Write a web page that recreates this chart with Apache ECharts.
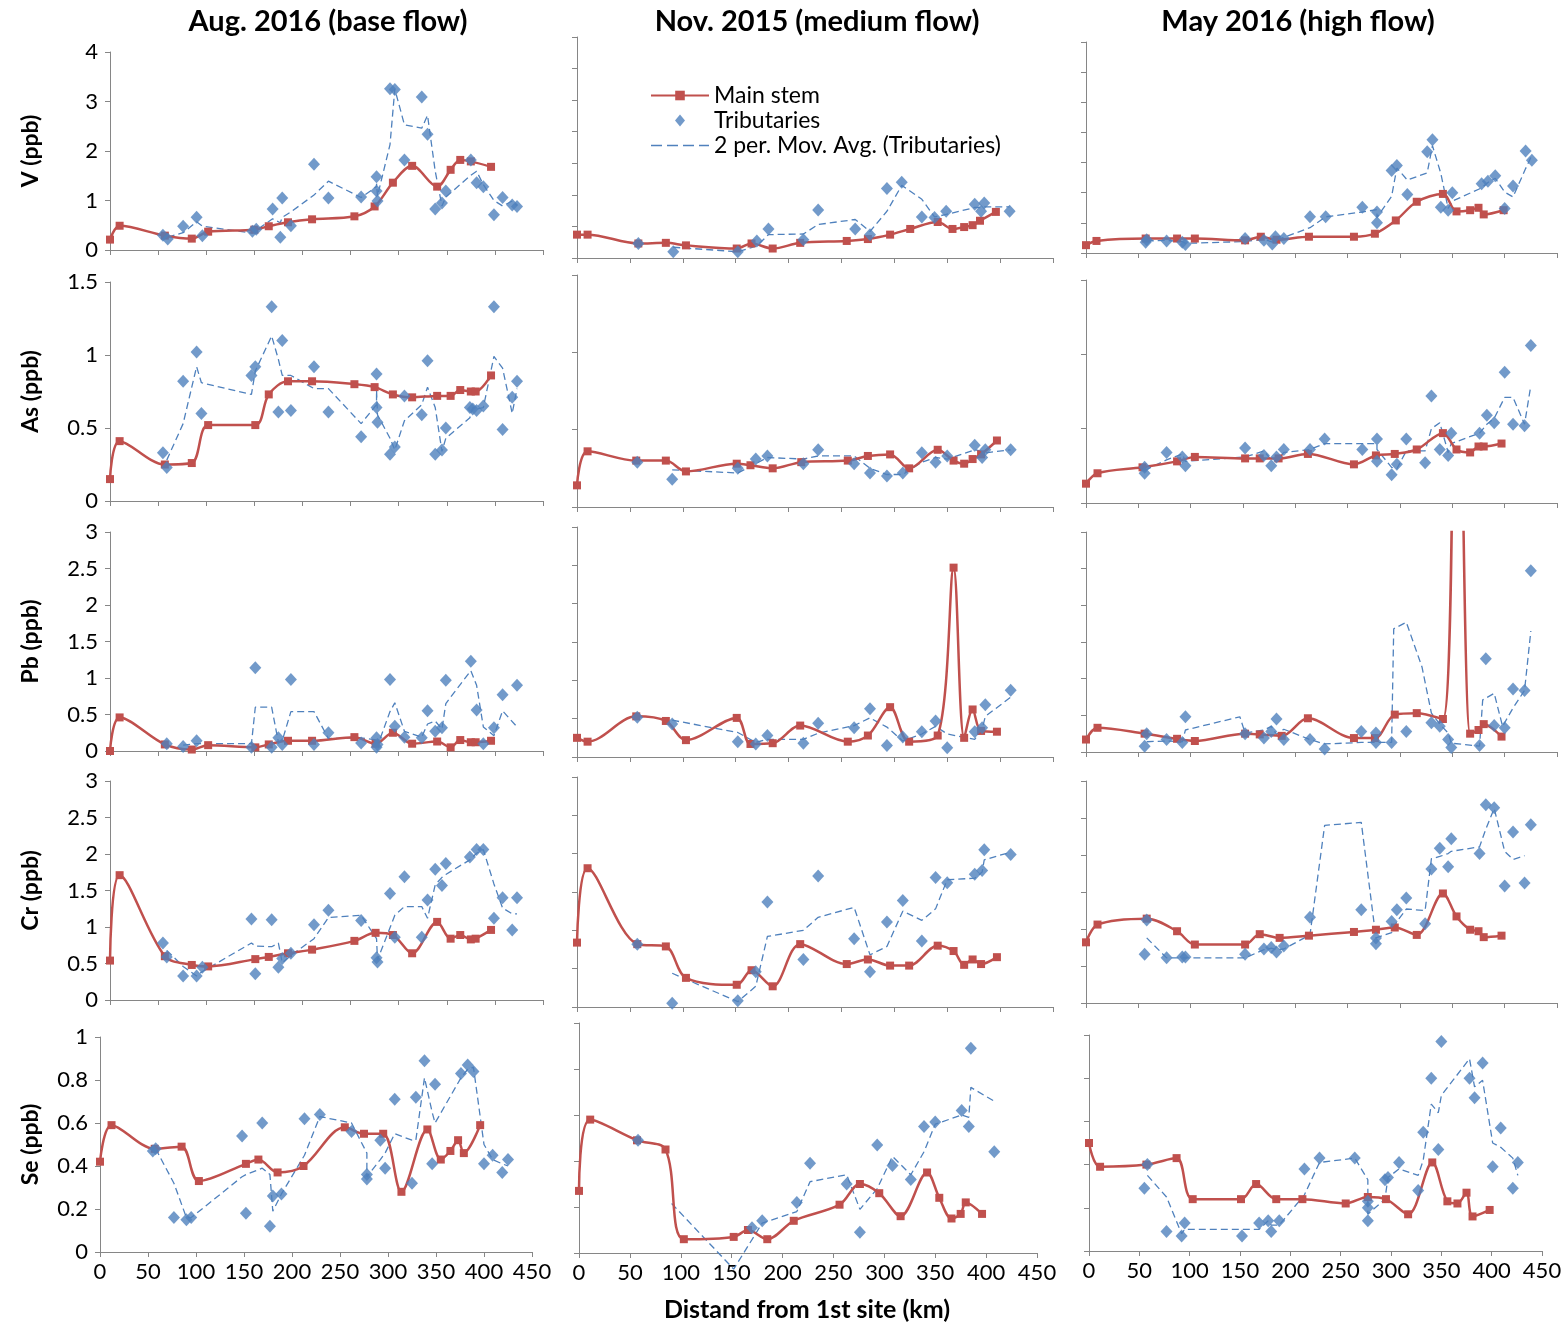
<!DOCTYPE html>
<html><head><meta charset="utf-8">
<script src="https://cdn.jsdelivr.net/npm/echarts@6/dist/echarts.min.js"></script>
<style>html,body{margin:0;padding:0;background:#fff}#c{width:1565px;height:1323px}</style>
</head><body><div id="c"></div>
<script>
// ---------------- DATA (km from 1st site, ppb) ----------------
// Aug. 2016 (base flow)
const aug_V_mainKm = [0, 10, 57, 85, 102, 150, 165, 185, 210, 254, 275, 294, 314, 340, 354, 364, 375, 396];
const aug_V_main   = [0.21, 0.49, 0.29, 0.23, 0.37, 0.41, 0.48, 0.56, 0.62, 0.68, 0.88, 1.36, 1.70, 1.28, 1.62, 1.82, 1.79, 1.68];
const aug_V_tribKm = [55, 60, 76, 90, 96, 148, 152, 169, 177, 179, 188, 212, 227, 261, 277, 277, 278, 291, 296, 306, 324, 330, 338, 345, 349, 375, 381, 388, 399, 408, 418, 423];
const aug_V_trib   = [0.30, 0.22, 0.48, 0.66, 0.29, 0.38, 0.42, 0.83, 0.26, 1.05, 0.49, 1.73, 1.05, 1.07, 1.48, 1.19, 0.99, 3.26, 3.24, 1.82, 3.09, 2.34, 0.83, 0.95, 1.19, 1.82, 1.36, 1.28, 0.71, 1.06, 0.91, 0.88];
const aug_V_maKm   = [60, 76, 90, 96, 148, 152, 169, 177, 179, 188, 212, 227, 261, 277, 277, 278, 291, 296, 306, 324, 330, 338, 345, 349, 375, 381, 388, 399, 408, 418, 423];
const aug_V_ma     = [0.26, 0.35, 0.57, 0.48, 0.34, 0.40, 0.63, 0.55, 0.66, 0.77, 1.11, 1.39, 1.06, 1.28, 1.34, 1.09, 2.13, 3.25, 2.53, 2.46, 2.72, 1.59, 0.89, 1.07, 1.51, 1.59, 1.32, 1.00, 0.89, 0.99, 0.90];

const aug_As_mainKm = [0, 10, 57, 85, 102, 151, 165, 185, 210, 254, 275, 294, 314, 340, 354, 364, 375, 380, 396];
const aug_As_main   = [0.15, 0.41, 0.25, 0.26, 0.52, 0.52, 0.73, 0.82, 0.82, 0.80, 0.78, 0.73, 0.71, 0.72, 0.72, 0.76, 0.75, 0.75, 0.86];
const aug_As_tribKm = [55, 59, 76, 90, 95, 147, 151, 168, 175, 179, 188, 212, 227, 261, 277, 277, 278, 291, 296, 306, 324, 330, 338, 345, 349, 374, 377, 381, 388, 399, 408, 418, 423];
const aug_As_trib   = [0.33, 0.23, 0.82, 1.02, 0.60, 0.86, 0.92, 1.33, 0.61, 1.10, 0.62, 0.92, 0.61, 0.44, 0.87, 0.64, 0.54, 0.32, 0.37, 0.72, 0.59, 0.96, 0.32, 0.35, 0.50, 0.64, 0.63, 0.62, 0.65, 1.33, 0.49, 0.71, 0.82];
const aug_As_maKm   = [59, 76, 90, 95, 147, 151, 168, 175, 179, 188, 212, 227, 261, 277, 277, 278, 291, 296, 306, 324, 330, 338, 345, 349, 374, 377, 381, 388, 399, 408, 418, 423];
const aug_As_ma     = [0.28, 0.53, 0.92, 0.81, 0.73, 0.89, 1.13, 0.97, 0.86, 0.86, 0.77, 0.77, 0.53, 0.66, 0.76, 0.59, 0.43, 0.35, 0.55, 0.66, 0.78, 0.64, 0.34, 0.43, 0.57, 0.64, 0.63, 0.64, 0.99, 0.91, 0.60, 0.77];

const aug_Pb_mainKm = [0, 10, 57, 85, 102, 151, 165, 185, 210, 254, 276, 294, 314, 340, 354, 364, 375, 380, 396];
const aug_Pb_main   = [0.0, 0.46, 0.09, 0.02, 0.08, 0.05, 0.09, 0.14, 0.14, 0.19, 0.10, 0.25, 0.10, 0.13, 0.05, 0.15, 0.12, 0.12, 0.14];
const aug_Pb_tribKm = [59, 76, 90, 147, 151, 168, 175, 179, 188, 212, 227, 261, 277, 277, 278, 291, 296, 306, 324, 330, 338, 345, 349, 375, 381, 388, 399, 408, 423];
const aug_Pb_trib   = [0.10, 0.06, 0.14, 0.05, 1.14, 0.05, 0.18, 0.09, 0.98, 0.09, 0.25, 0.11, 0.18, 0.05, 0.09, 0.98, 0.34, 0.19, 0.18, 0.55, 0.27, 0.32, 0.97, 1.23, 0.56, 0.10, 0.32, 0.77, 0.90];
const aug_Pb_maKm   = [76, 90, 147, 151, 168, 175, 179, 188, 212, 227, 261, 277, 277, 278, 291, 296, 306, 324, 330, 338, 345, 349, 375, 381, 388, 399, 408, 423];
const aug_Pb_ma     = [0.08, 0.10, 0.10, 0.60, 0.60, 0.12, 0.14, 0.54, 0.54, 0.17, 0.18, 0.15, 0.12, 0.07, 0.54, 0.66, 0.27, 0.19, 0.37, 0.41, 0.30, 0.65, 1.10, 0.90, 0.33, 0.21, 0.55, 0.33];

const aug_Cr_mainKm = [0, 10, 57, 85, 102, 151, 165, 185, 210, 254, 276, 294, 314, 340, 354, 364, 375, 380, 396];
const aug_Cr_main   = [0.54, 1.71, 0.60, 0.48, 0.46, 0.56, 0.59, 0.64, 0.69, 0.81, 0.92, 0.89, 0.64, 1.07, 0.84, 0.89, 0.83, 0.84, 0.96];
const aug_Cr_tribKm = [55, 59, 76, 90, 96, 147, 151, 168, 175, 179, 188, 212, 227, 261, 277, 278, 291, 296, 306, 324, 330, 338, 345, 349, 374, 381, 388, 399, 408, 418, 423];
const aug_Cr_trib   = [0.78, 0.59, 0.33, 0.33, 0.45, 1.11, 0.36, 1.10, 0.45, 0.57, 0.64, 1.03, 1.23, 1.09, 0.58, 0.52, 1.46, 0.86, 1.69, 0.86, 1.37, 1.79, 1.57, 1.87, 1.96, 2.06, 2.06, 1.12, 1.40, 0.96, 1.40];
const aug_Cr_maKm   = [59, 76, 90, 96, 147, 151, 168, 175, 179, 188, 212, 227, 261, 277, 278, 291, 296, 306, 324, 330, 338, 345, 349, 374, 381, 388, 399, 408, 418, 423];
const aug_Cr_ma     = [0.68, 0.46, 0.33, 0.39, 0.78, 0.74, 0.73, 0.78, 0.51, 0.61, 0.84, 1.13, 1.16, 0.84, 0.55, 0.99, 1.16, 1.28, 1.28, 1.12, 1.58, 1.68, 1.72, 1.92, 2.01, 2.06, 1.59, 1.26, 1.18, 1.18];

const aug_Se_mainKm = [0, 12, 57, 85, 103, 152, 165, 185, 212, 255, 275, 295, 314, 341, 355, 365, 373, 379, 396];
const aug_Se_main   = [0.42, 0.59, 0.48, 0.49, 0.33, 0.41, 0.43, 0.37, 0.40, 0.58, 0.55, 0.55, 0.28, 0.57, 0.43, 0.47, 0.52, 0.46, 0.59];
const aug_Se_tribKm = [55, 58, 77, 90, 95, 148, 152, 169, 177, 180, 189, 213, 229, 262, 278, 278, 292, 297, 307, 325, 329, 338, 346, 349, 376, 383, 389, 400, 409, 419, 425];
const aug_Se_trib   = [0.47, 0.48, 0.16, 0.15, 0.16, 0.54, 0.18, 0.60, 0.12, 0.26, 0.27, 0.62, 0.64, 0.56, 0.36, 0.34, 0.52, 0.39, 0.71, 0.32, 0.72, 0.89, 0.41, 0.78, 0.83, 0.87, 0.84, 0.41, 0.45, 0.37, 0.43];
const aug_Se_maKm   = [58, 77, 90, 95, 148, 152, 169, 177, 180, 189, 213, 229, 262, 278, 278, 292, 297, 307, 325, 329, 338, 346, 349, 376, 383, 389, 400, 409, 419, 425];
const aug_Se_ma     = [0.48, 0.32, 0.16, 0.16, 0.35, 0.36, 0.39, 0.36, 0.19, 0.27, 0.45, 0.63, 0.60, 0.46, 0.35, 0.43, 0.46, 0.55, 0.52, 0.52, 0.81, 0.65, 0.60, 0.81, 0.85, 0.86, 0.50, 0.43, 0.41, 0.40];

// Nov. 2015 (medium flow)
const nov_V_mainKm = [0, 10, 58, 84, 103, 151, 165, 185, 211, 255, 275, 296, 315, 341, 355, 366, 374, 381, 396];
const nov_V_main   = [0.37, 0.37, 0.23, 0.24, 0.20, 0.15, 0.23, 0.15, 0.24, 0.27, 0.30, 0.37, 0.46, 0.57, 0.46, 0.49, 0.52, 0.59, 0.73];
const nov_V_tribKm = [58, 91, 152, 170, 181, 214, 228, 263, 277, 293, 307, 326, 338, 349, 376, 382, 385, 409];
const nov_V_trib   = [0.23, 0.10, 0.10, 0.27, 0.46, 0.29, 0.76, 0.46, 0.37, 1.10, 1.20, 0.65, 0.64, 0.74, 0.85, 0.74, 0.87, 0.74];
const nov_V_maKm   = [91, 152, 170, 181, 214, 228, 263, 277, 293, 307, 326, 338, 349, 376, 382, 385, 409];
const nov_V_ma     = [0.17, 0.10, 0.19, 0.37, 0.38, 0.53, 0.61, 0.42, 0.74, 1.15, 0.93, 0.65, 0.69, 0.80, 0.80, 0.81, 0.81];

const nov_As_mainKm = [0, 10, 56, 84, 103, 151, 164, 185, 212, 256, 275, 296, 314, 341, 356, 366, 374, 382, 397];
const nov_As_main   = [0.14, 0.36, 0.30, 0.30, 0.23, 0.28, 0.27, 0.25, 0.29, 0.30, 0.33, 0.34, 0.25, 0.37, 0.30, 0.28, 0.31, 0.34, 0.43];
const nov_As_tribKm = [57, 90, 152, 169, 180, 214, 228, 262, 277, 293, 308, 326, 339, 350, 376, 383, 386, 410];
const nov_As_trib   = [0.29, 0.18, 0.25, 0.31, 0.33, 0.28, 0.37, 0.28, 0.22, 0.20, 0.22, 0.35, 0.29, 0.33, 0.40, 0.32, 0.37, 0.37];
const nov_As_maKm   = [90, 152, 169, 180, 214, 228, 262, 277, 293, 308, 326, 339, 350, 376, 383, 386, 410];
const nov_As_ma     = [0.24, 0.22, 0.28, 0.32, 0.31, 0.33, 0.33, 0.25, 0.21, 0.21, 0.29, 0.32, 0.31, 0.37, 0.36, 0.35, 0.37];

const nov_Pb_mainKm = [0, 10, 56, 84, 103, 151, 164, 185, 211, 256, 275, 296, 314, 341, 356, 366, 374, 382, 397];
const nov_Pb_main   = [0.25, 0.20, 0.53, 0.47, 0.22, 0.51, 0.17, 0.18, 0.41, 0.20, 0.28, 0.65, 0.20, 0.28, 2.47, 0.25, 0.62, 0.34, 0.33];
const nov_Pb_tribKm = [57, 90, 152, 169, 180, 214, 228, 262, 277, 293, 308, 326, 339, 350, 376, 383, 386, 410];
const nov_Pb_trib   = [0.52, 0.43, 0.20, 0.17, 0.28, 0.18, 0.44, 0.38, 0.63, 0.15, 0.26, 0.33, 0.47, 0.12, 0.33, 0.38, 0.68, 0.87];
const nov_Pb_maKm   = [90, 152, 169, 180, 214, 228, 262, 277, 293, 308, 326, 339, 350, 376, 383, 386, 410];
const nov_Pb_ma     = [0.48, 0.32, 0.19, 0.23, 0.23, 0.31, 0.41, 0.51, 0.39, 0.21, 0.30, 0.40, 0.30, 0.23, 0.36, 0.53, 0.78];

const nov_Cr_mainKm = [0, 10, 57, 84, 103, 151, 165, 185, 211, 255, 275, 296, 314, 341, 356, 366, 374, 382, 397];
const nov_Cr_main   = [0.84, 1.81, 0.82, 0.79, 0.38, 0.29, 0.48, 0.27, 0.82, 0.56, 0.62, 0.54, 0.54, 0.80, 0.73, 0.55, 0.62, 0.56, 0.65];
const nov_Cr_tribKm = [57, 90, 152, 169, 180, 214, 228, 262, 277, 293, 308, 326, 339, 350, 376, 383, 385, 410];
const nov_Cr_trib   = [0.82, 0.05, 0.08, 0.46, 1.37, 0.62, 1.71, 0.89, 0.46, 1.11, 1.39, 0.86, 1.69, 1.62, 1.73, 1.78, 2.05, 1.99];
const nov_Cr_maKm   = [90, 152, 169, 180, 214, 228, 262, 277, 293, 308, 326, 339, 350, 376, 383, 385, 410];
const nov_Cr_ma     = [0.44, 0.07, 0.27, 0.92, 1.00, 1.17, 1.30, 0.68, 0.79, 1.25, 1.13, 1.28, 1.66, 1.68, 1.76, 1.92, 2.02];

const nov_Se_mainKm = [0, 11, 57, 85, 103, 152, 166, 185, 211, 256, 276, 295, 316, 342, 354, 366, 375, 380, 396];
const nov_Se_main   = [0.27, 0.58, 0.49, 0.45, 0.06, 0.07, 0.10, 0.06, 0.14, 0.21, 0.30, 0.26, 0.16, 0.35, 0.24, 0.15, 0.17, 0.22, 0.17];
const nov_Se_tribKm = [58, 170, 180, 214, 227, 263, 276, 293, 308, 326, 339, 350, 376, 383, 385, 408];
const nov_Se_trib   = [0.49, 0.11, 0.14, 0.22, 0.39, 0.30, 0.09, 0.47, 0.38, 0.32, 0.55, 0.57, 0.62, 0.55, 0.89, 0.44];
const nov_Se_maKm   = [91, 152, 180, 214, 227, 263, 276, 293, 308, 326, 339, 350, 376, 383, 385, 408];
const nov_Se_ma     = [0.215, -0.07, 0.13, 0.18, 0.31, 0.34, 0.19, 0.28, 0.42, 0.34, 0.44, 0.56, 0.60, 0.59, 0.72, 0.66];

// May 2016 (high flow)
const may_V_mainKm = [0, 10, 57, 87, 104, 152, 167, 182, 213, 256, 276, 296, 316, 341, 354, 367, 375, 380, 399];
const may_V_main   = [0.13, 0.20, 0.24, 0.24, 0.24, 0.21, 0.27, 0.22, 0.27, 0.27, 0.32, 0.54, 0.85, 0.98, 0.69, 0.71, 0.75, 0.64, 0.71];
const may_V_tribKm = [57, 58, 77, 92, 95, 152, 170, 178, 181, 189, 214, 229, 264, 278, 278, 292, 297, 307, 326, 331, 339, 346, 350, 378, 384, 391, 400, 408, 420, 426];
const may_V_trib   = [0.18, 0.22, 0.20, 0.18, 0.14, 0.24, 0.21, 0.15, 0.27, 0.24, 0.60, 0.60, 0.76, 0.68, 0.50, 1.37, 1.45, 0.97, 1.68, 1.88, 0.76, 0.71, 1.00, 1.15, 1.19, 1.28, 0.74, 1.11, 1.69, 1.54];
const may_V_maKm   = [58, 77, 92, 95, 152, 170, 178, 181, 189, 214, 229, 264, 278, 278, 292, 297, 307, 326, 331, 339, 346, 350, 378, 384, 391, 400, 408, 420, 426];
const may_V_ma     = [0.20, 0.21, 0.19, 0.16, 0.19, 0.23, 0.18, 0.21, 0.26, 0.42, 0.60, 0.68, 0.72, 0.59, 0.94, 1.41, 1.21, 1.33, 1.78, 1.32, 0.74, 0.86, 1.08, 1.17, 1.24, 1.01, 0.93, 1.40, 1.62];

const may_As_mainKm = [0, 11, 54, 87, 104, 152, 166, 184, 212, 256, 277, 295, 316, 341, 354, 367, 375, 380, 397];
const may_As_main   = [0.13, 0.20, 0.24, 0.28, 0.31, 0.30, 0.30, 0.30, 0.33, 0.26, 0.32, 0.33, 0.36, 0.47, 0.36, 0.34, 0.38, 0.38, 0.40];
const may_As_tribKm = [56, 56, 77, 92, 95, 152, 170, 177, 182, 189, 214, 228, 264, 278, 278, 292, 297, 306, 324, 330, 338, 346, 349, 376, 383, 390, 400, 408, 419, 425];
const may_As_trib   = [0.20, 0.24, 0.34, 0.31, 0.25, 0.37, 0.32, 0.25, 0.31, 0.36, 0.36, 0.43, 0.36, 0.43, 0.28, 0.19, 0.26, 0.43, 0.27, 0.72, 0.36, 0.32, 0.47, 0.47, 0.59, 0.54, 0.88, 0.53, 0.52, 1.06];
const may_As_maKm   = [56, 77, 92, 95, 152, 170, 177, 182, 189, 214, 228, 264, 278, 278, 292, 297, 306, 324, 330, 338, 346, 349, 376, 383, 390, 400, 408, 419, 425];
const may_As_ma     = [0.22, 0.29, 0.33, 0.28, 0.31, 0.35, 0.29, 0.28, 0.34, 0.36, 0.40, 0.40, 0.40, 0.36, 0.24, 0.23, 0.35, 0.35, 0.50, 0.54, 0.34, 0.40, 0.47, 0.53, 0.57, 0.71, 0.71, 0.53, 0.79];

const may_Pb_mainKm = [0, 11, 56, 87, 104, 152, 166, 187, 212, 256, 276, 295, 316, 341, 354, 367, 375, 380, 397];
const may_Pb_main   = [0.17, 0.33, 0.25, 0.18, 0.15, 0.25, 0.24, 0.22, 0.46, 0.19, 0.19, 0.51, 0.53, 0.45, 8.0, 0.25, 0.30, 0.38, 0.21];
const may_Pb_tribKm = [56, 58, 77, 92, 95, 152, 170, 177, 182, 189, 214, 228, 263, 277, 277, 292, 306, 330, 338, 346, 349, 376, 382, 390, 400, 408, 419, 425];
const may_Pb_trib   = [0.08, 0.25, 0.17, 0.13, 0.48, 0.25, 0.19, 0.28, 0.45, 0.17, 0.17, 0.04, 0.28, 0.13, 0.26, 0.13, 0.28, 0.40, 0.35, 0.17, 0.06, 0.09, 1.27, 0.36, 0.33, 0.86, 0.84, 2.47];
const may_Pb_maKm   = [58, 77, 92, 95, 147, 152, 170, 177, 182, 189, 214, 228, 263, 277, 292, 294, 306, 321, 330, 338, 346, 349, 376, 379, 390, 398, 408, 419, 425];
const may_Pb_ma     = [0.14, 0.15, 0.14, 0.30, 0.48, 0.26, 0.30, 0.35, 0.24, 0.31, 0.17, 0.11, 0.13, 0.13, 0.13, 1.68, 1.77, 1.16, 0.53, 0.38, 0.26, 0.12, 0.08, 0.71, 0.80, 0.35, 0.60, 0.84, 1.65];

const may_Cr_mainKm = [0, 11, 58, 87, 104, 152, 166, 185, 213, 256, 277, 295, 316, 341, 354, 367, 375, 380, 397];
const may_Cr_main   = [0.82, 1.06, 1.14, 0.97, 0.79, 0.79, 0.93, 0.88, 0.91, 0.96, 0.99, 1.02, 0.92, 1.48, 1.17, 0.99, 0.97, 0.89, 0.91];
const may_Cr_tribKm = [56, 58, 77, 92, 95, 152, 170, 177, 182, 189, 214, 263, 277, 277, 292, 297, 306, 324, 330, 338, 346, 349, 376, 382, 390, 400, 408, 419, 425];
const may_Cr_trib   = [0.66, 1.12, 0.61, 0.62, 0.62, 0.66, 0.73, 0.75, 0.69, 0.77, 1.16, 1.26, 0.88, 0.80, 1.10, 1.26, 1.42, 1.07, 1.81, 2.09, 1.84, 2.22, 2.02, 2.68, 2.64, 1.58, 2.31, 1.62, 2.41];
const may_Cr_maKm   = [58, 77, 92, 95, 152, 170, 177, 182, 189, 214, 228, 263, 277, 292, 297, 306, 324, 330, 338, 346, 349, 376, 382, 390, 400, 408, 419];
const may_Cr_ma     = [0.88, 0.61, 0.61, 0.61, 0.61, 0.72, 0.74, 0.72, 0.73, 0.92, 2.40, 2.44, 0.88, 0.95, 1.10, 1.27, 1.25, 1.95, 1.98, 2.02, 2.05, 2.11, 2.35, 2.63, 2.05, 1.94, 1.99];

const may_Se_mainKm = [0, 11, 57, 87, 103, 151, 166, 186, 212, 255, 277, 295, 317, 341, 356, 366, 375, 381, 398];
const may_Se_main   = [0.50, 0.39, 0.40, 0.43, 0.24, 0.24, 0.31, 0.24, 0.24, 0.22, 0.25, 0.24, 0.17, 0.41, 0.23, 0.22, 0.27, 0.16, 0.19];
const may_Se_tribKm = [55, 58, 77, 92, 95, 152, 169, 178, 181, 189, 214, 229, 264, 277, 277, 277, 294, 297, 308, 327, 332, 340, 347, 350, 378, 383, 391, 401, 409, 421, 426];
const may_Se_trib   = [0.29, 0.40, 0.09, 0.07, 0.13, 0.07, 0.13, 0.14, 0.09, 0.14, 0.38, 0.43, 0.43, 0.23, 0.20, 0.14, 0.33, 0.34, 0.41, 0.28, 0.55, 0.80, 0.47, 0.97, 0.80, 0.71, 0.87, 0.39, 0.57, 0.29, 0.41];
const may_Se_maKm   = [58, 77, 92, 95, 152, 169, 178, 181, 189, 214, 229, 264, 277, 277, 277, 294, 297, 308, 327, 332, 340, 347, 350, 378, 383, 391, 401, 409, 421, 426];
const may_Se_ma     = [0.35, 0.25, 0.08, 0.10, 0.10, 0.10, 0.14, 0.12, 0.12, 0.26, 0.41, 0.43, 0.33, 0.22, 0.17, 0.24, 0.34, 0.38, 0.35, 0.42, 0.68, 0.64, 0.72, 0.89, 0.76, 0.79, 0.50, 0.48, 0.43, 0.35];

// Text
const colTitles = ['Aug. 2016 (base flow)', 'Nov. 2015 (medium flow)', 'May 2016 (high flow)'];
const yNames = ['V (ppb)', 'As (ppb)', 'Pb (ppb)', 'Cr (ppb)', 'Se (ppb)'];
const xTitle = 'Distand from 1st site (km)';
const seriesNames = ['Main stem', 'Tributaries', '2 per. Mov. Avg. (Tributaries)'];

// ---------------- lookup table built from the arrays ----------------
const DATA = [
  [[aug_V_mainKm, aug_V_main, aug_V_tribKm, aug_V_trib, aug_V_maKm, aug_V_ma],
   [aug_As_mainKm, aug_As_main, aug_As_tribKm, aug_As_trib, aug_As_maKm, aug_As_ma],
   [aug_Pb_mainKm, aug_Pb_main, aug_Pb_tribKm, aug_Pb_trib, aug_Pb_maKm, aug_Pb_ma],
   [aug_Cr_mainKm, aug_Cr_main, aug_Cr_tribKm, aug_Cr_trib, aug_Cr_maKm, aug_Cr_ma],
   [aug_Se_mainKm, aug_Se_main, aug_Se_tribKm, aug_Se_trib, aug_Se_maKm, aug_Se_ma]],
  [[nov_V_mainKm, nov_V_main, nov_V_tribKm, nov_V_trib, nov_V_maKm, nov_V_ma],
   [nov_As_mainKm, nov_As_main, nov_As_tribKm, nov_As_trib, nov_As_maKm, nov_As_ma],
   [nov_Pb_mainKm, nov_Pb_main, nov_Pb_tribKm, nov_Pb_trib, nov_Pb_maKm, nov_Pb_ma],
   [nov_Cr_mainKm, nov_Cr_main, nov_Cr_tribKm, nov_Cr_trib, nov_Cr_maKm, nov_Cr_ma],
   [nov_Se_mainKm, nov_Se_main, nov_Se_tribKm, nov_Se_trib, nov_Se_maKm, nov_Se_ma]],
  [[may_V_mainKm, may_V_main, may_V_tribKm, may_V_trib, may_V_maKm, may_V_ma],
   [may_As_mainKm, may_As_main, may_As_tribKm, may_As_trib, may_As_maKm, may_As_ma],
   [may_Pb_mainKm, may_Pb_main, may_Pb_tribKm, may_Pb_trib, may_Pb_maKm, may_Pb_ma],
   [may_Cr_mainKm, may_Cr_main, may_Cr_tribKm, may_Cr_trib, may_Cr_maKm, may_Cr_ma],
   [may_Se_mainKm, may_Se_main, may_Se_tribKm, may_Se_trib, may_Se_maKm, may_Se_ma]]
];

// ---------------- layout & style ----------------
const FONT = 'Lato, "Open Sans", sans-serif';
const RED = '#C0504D', BLUE = '#4F81BD', AXIS = '#868686';
// [left, top, right, bottom] of each plot area, per column then row
const BOXES = [
  [[110, 52, 543, 250], [110, 282, 543, 501], [110, 532, 543, 751], [110, 781, 543, 1000], [100, 1037, 532, 1252]],
  [[577, 37, 1053, 258], [577, 275, 1053, 507], [577, 527, 1053, 757], [577, 777, 1053, 1007], [579, 1023, 1037, 1253]],
  [[1086, 42, 1557, 253], [1086, 280, 1557, 503], [1086, 532, 1557, 752], [1086, 781, 1557, 1003], [1089, 1035, 1542, 1251]]
];
function yScale(c, r) {
  if (r === 0) return c === 0 ? [4, 1] : [3.5, 0.5];
  if (r === 1) return [1.5, 0.5];
  if (r === 4) return [1, 0.2];
  return [3, 0.5];
}
const zip = (xs, ys) => xs.map((x, i) => [x, ys[i]]);

const grid = [], xAxis = [], yAxis = [], series = [];
for (let c = 0; c < 3; c++) {
  for (let r = 0; r < 5; r++) {
    const i = grid.length;
    const [l, t, rt, b] = BOXES[c][r];
    grid.push({ left: l, top: t, width: rt - l, height: b - t });
    xAxis.push({
      type: 'value', gridIndex: i, min: 0, max: 450, interval: 50,
      axisLine: { show: true, onZero: false, lineStyle: { color: AXIS, width: 1 } },
      axisTick: { show: true, length: 5, lineStyle: { color: AXIS } },
      axisLabel: { show: r === 4, color: '#000', fontSize: 22, fontFamily: FONT, margin: 9 },
      splitLine: { show: false }
    });
    const [mx, step] = yScale(c, r);
    yAxis.push({
      type: 'value', gridIndex: i, min: 0, max: mx, interval: step,
      name: c === 0 ? yNames[r] : '', nameLocation: 'middle', nameGap: r === 4 ? 58 : 68,
      nameTextStyle: { color: '#000', fontSize: 23, fontWeight: 'bold', fontFamily: FONT },
      axisLine: { show: true, lineStyle: { color: AXIS, width: 1 } },
      axisTick: { show: true, length: 5, lineStyle: { color: AXIS } },
      axisLabel: { show: c === 0, color: '#000', fontSize: 22, fontFamily: FONT, margin: 12 },
      splitLine: { show: false }
    });
    const d = DATA[c][r];
    series.push({
      name: seriesNames[2], type: 'line', xAxisIndex: i, yAxisIndex: i,
      data: zip(d[4], d[5]), symbol: 'none', clip: false, z: 2, silent: true,
      lineStyle: { color: BLUE, width: 1.3, type: [7, 4] }, itemStyle: { color: BLUE }
    });
    series.push({
      name: seriesNames[0], type: 'line', xAxisIndex: i, yAxisIndex: i,
      data: zip(d[0], d[1]), smooth: 0.33, symbol: 'rect', symbolSize: 8, clip: true, z: 3, silent: true,
      lineStyle: { color: RED, width: 2.5 }, itemStyle: { color: RED }
    });
    series.push({
      name: seriesNames[1], type: 'scatter', xAxisIndex: i, yAxisIndex: i,
      data: zip(d[2], d[3]), symbol: 'diamond', symbolSize: [12, 13], z: 4, silent: true,
      itemStyle: { color: BLUE }
    });
  }
}

const titleStyle = (t, size) => ({ text: t, font: 'bold ' + size + 'px ' + FONT, fill: '#000', align: 'center', verticalAlign: 'middle', textAlign: 'center', textVerticalAlign: 'middle' });

const chart = echarts.init(document.getElementById('c'), null, { renderer: 'canvas' });
chart.setOption({
  backgroundColor: '#fff',
  animation: false,
  grid, xAxis, yAxis, series,
  legend: {
    data: [
      { name: seriesNames[0] },
      { name: seriesNames[1], icon: 'path://M5,0L10,6L5,12L0,6Z' },
      { name: seriesNames[2], icon: 'path://M0,0h11v1.3h-11z M16,0h11v1.3h-11z M32,0h11v1.3h-11z M48,0h10v1.3h-10z' }
    ],
    orient: 'vertical', left: 645, top: 79,
    itemWidth: 58, itemHeight: 12, itemGap: 2, selectedMode: false, symbolKeepAspect: true,
    textStyle: { color: '#000', fontSize: 23, fontFamily: FONT }
  },
  graphic: [
    { type: 'text', x: 328, y: 22, style: titleStyle(colTitles[0], 29) },
    { type: 'text', x: 817, y: 22, style: titleStyle(colTitles[1], 29) },
    { type: 'text', x: 1298, y: 22, style: titleStyle(colTitles[2], 29) },
    { type: 'text', x: 807, y: 1310, style: titleStyle(xTitle, 25) }
  ]
});
</script></body></html>
